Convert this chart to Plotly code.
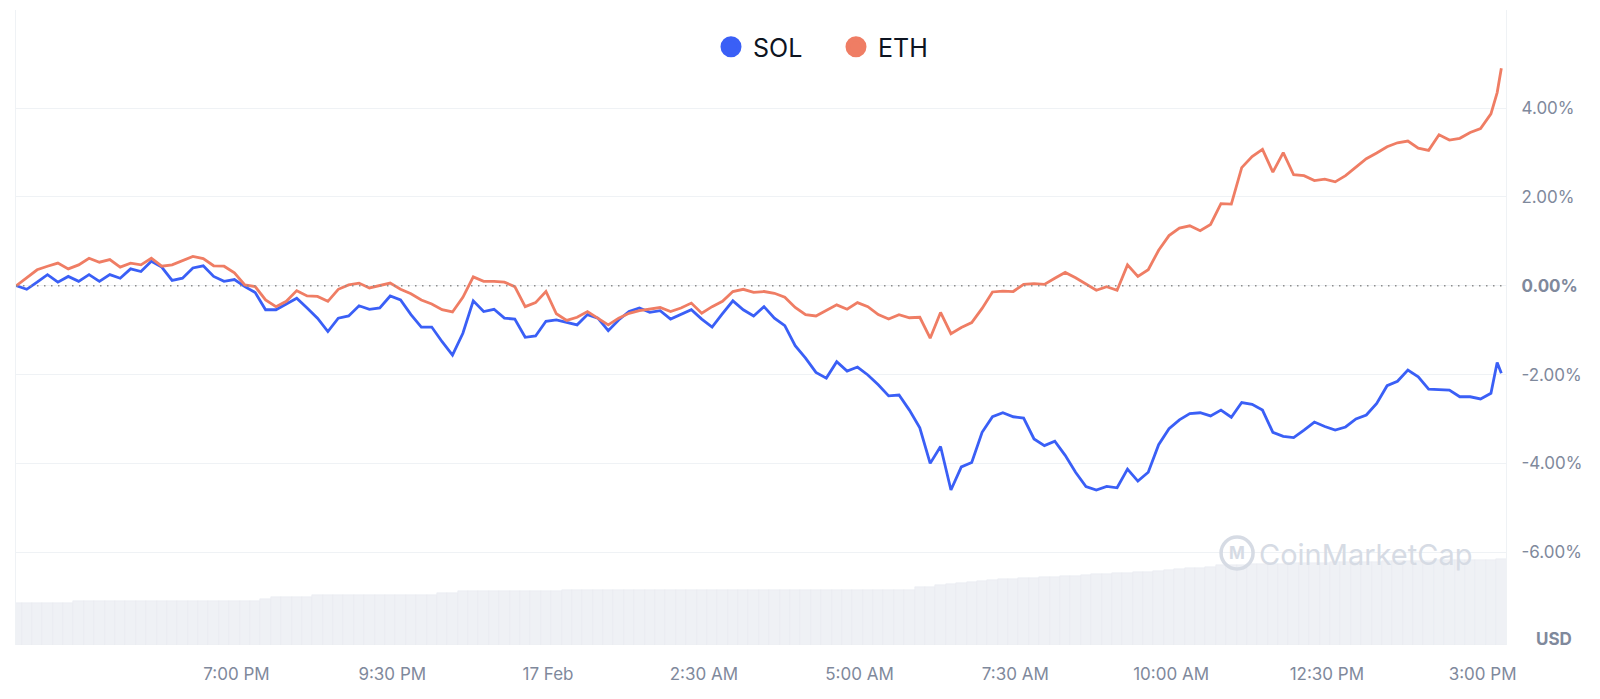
import pandas as pd
import plotly.graph_objects as go

# ---------------- data ----------------
start = "2025-02-16 15:28"
grid_times = pd.date_range(start, periods=144, freq="10min")
extra_time = pd.Timestamp("2025-02-17 15:14")
line_times = list(grid_times[:143]) + [extra_time, grid_times[143]]

sol = [0.00, -0.08, 0.08, 0.25, 0.08, 0.21, 0.10, 0.25, 0.10, 0.25,
       0.17, 0.38, 0.32, 0.55, 0.42, 0.12, 0.17, 0.40, 0.45, 0.21,
       0.10, 0.14, -0.02, -0.15, -0.54, -0.54, -0.41, -0.28, -0.50, -0.73,
       -1.03, -0.73, -0.68, -0.45, -0.53, -0.50, -0.23, -0.32, -0.65, -0.93,
       -0.93, -1.26, -1.56, -1.07, -0.34, -0.58, -0.53, -0.73, -0.75, -1.16,
       -1.13, -0.80, -0.77, -0.83, -0.88, -0.65, -0.73, -1.01, -0.77, -0.58,
       -0.50, -0.60, -0.56, -0.75, -0.65, -0.54, -0.75, -0.93, -0.63, -0.34,
       -0.54, -0.68, -0.47, -0.73, -0.90, -1.35, -1.63, -1.95, -2.08, -1.71,
       -1.92, -1.83, -2.01, -2.23, -2.48, -2.46, -2.80, -3.20, -4.00, -3.62,
       -4.60, -4.08, -3.98, -3.30, -2.95, -2.86, -2.95, -2.98, -3.45, -3.60,
       -3.50, -3.82, -4.20, -4.52, -4.60, -4.52, -4.55, -4.13, -4.40, -4.20,
       -3.58, -3.22, -3.02, -2.88, -2.86, -2.93, -2.80, -2.96, -2.63, -2.67,
       -2.80, -3.30, -3.39, -3.42, -3.25, -3.07, -3.17, -3.25, -3.18, -3.00,
       -2.91, -2.65, -2.25, -2.15, -1.90, -2.05, -2.33, -2.34, -2.35, -2.50,
       -2.50, -2.55, -2.42, -1.73, -1.97]

eth = [0.00, 0.17, 0.36, 0.44, 0.51, 0.38, 0.47, 0.62, 0.53, 0.59,
       0.42, 0.51, 0.47, 0.62, 0.44, 0.47, 0.57, 0.66, 0.61, 0.45,
       0.44, 0.29, 0.02, -0.02, -0.32, -0.47, -0.35, -0.11, -0.23, -0.24,
       -0.35, -0.08, 0.02, 0.06, -0.05, 0.00, 0.06, -0.08, -0.18, -0.32,
       -0.41, -0.54, -0.59, -0.26, 0.20, 0.10, 0.10, 0.08, -0.02, -0.47,
       -0.38, -0.13, -0.63, -0.78, -0.71, -0.58, -0.73, -0.88, -0.73, -0.62,
       -0.56, -0.53, -0.49, -0.58, -0.50, -0.39, -0.62, -0.47, -0.35, -0.13,
       -0.08, -0.15, -0.13, -0.17, -0.26, -0.49, -0.65, -0.68, -0.56, -0.43,
       -0.53, -0.38, -0.47, -0.65, -0.75, -0.65, -0.72, -0.71, -1.18, -0.60,
       -1.08, -0.94, -0.83, -0.51, -0.14, -0.12, -0.13, 0.03, 0.05, 0.03,
       0.17, 0.30, 0.18, 0.03, -0.10, -0.02, -0.10, 0.47, 0.21, 0.36,
       0.80, 1.13, 1.30, 1.35, 1.24, 1.38, 1.85, 1.84, 2.66, 2.91,
       3.07, 2.56, 3.00, 2.50, 2.48, 2.37, 2.40, 2.34, 2.48, 2.67,
       2.86, 2.99, 3.13, 3.22, 3.26, 3.10, 3.05, 3.40, 3.28, 3.32,
       3.45, 3.54, 3.87, 4.35, 4.90]

volume = [4.23, 4.23, 4.23, 4.23, 4.23, 4.23,
          4.43, 4.43, 4.43, 4.43, 4.43, 4.43, 4.43, 4.43, 4.43,
          4.43, 4.43, 4.43, 4.43, 4.43, 4.43, 4.43, 4.43, 4.43,
          4.60,
          4.77, 4.77, 4.77, 4.77,
          4.97, 4.97, 4.97, 4.97, 4.97, 4.97, 4.97, 4.97, 4.97, 4.97, 4.97, 4.97,
          5.17, 5.17,
          5.37, 5.37, 5.37, 5.37, 5.37, 5.37, 5.37, 5.37, 5.37, 5.37,
          5.55, 5.55, 5.55, 5.55, 5.55, 5.55, 5.55, 5.55, 5.55, 5.55,
          5.55, 5.55, 5.55, 5.55, 5.55, 5.55, 5.55, 5.55, 5.55, 5.55,
          5.55, 5.55, 5.55, 5.55, 5.55, 5.55, 5.55, 5.55, 5.55, 5.55,
          5.55, 5.55, 5.55, 5.55,
          5.83, 5.83,
          6.00, 6.15, 6.25, 6.33,
          6.45, 6.55, 6.60, 6.65, 6.70, 6.75, 6.80, 6.85, 6.90, 6.95, 7.00,
          7.10, 7.15, 7.20, 7.25, 7.30, 7.33,
          7.40, 7.50, 7.60, 7.70, 7.75, 7.83,
          8.00, 8.02, 8.05, 8.08, 8.10, 8.12, 8.15, 8.17, 8.20, 8.22,
          8.25, 8.27, 8.30, 8.32, 8.33, 8.35, 8.37, 8.40, 8.42, 8.44,
          8.45, 8.47, 8.48, 8.50, 8.52, 8.53,
          8.55, 8.57]

tick_times = ["2025-02-16 19:00", "2025-02-16 21:30", "2025-02-17 00:00",
              "2025-02-17 02:30", "2025-02-17 05:00", "2025-02-17 07:30",
              "2025-02-17 10:00", "2025-02-17 12:30", "2025-02-17 15:00"]
tick_labels = ["7:00 PM", "9:30 PM", "17 Feb", "2:30 AM", "5:00 AM",
               "7:30 AM", "10:00 AM", "12:30 PM", "3:00 PM"]
y_ticks = [-6, -4, -2, 0, 2, 4]
y_labels = ["-6.00%", "-4.00%", "-2.00%", "<b>0.00%</b>", "2.00%", "4.00%"]

series_names = ["SOL", "ETH"]
SOL_COLOR = "#3a5ff6"
ETH_COLOR = "#ef7d64"
AXIS_TEXT = "#7f899c"
GRID = "#eff2f5"
WATERMARK = "#d6dbe4"
FONT = "Inter"

# ---------------- figure ----------------
fig = go.Figure()

fig.add_trace(go.Bar(
    x=grid_times, y=volume, yaxis="y2", showlegend=False,
    marker=dict(color="#eff1f5", line=dict(color="#e7eaef", width=0.5)),
    hoverinfo="skip",
))

fig.add_trace(go.Scatter(
    x=line_times, y=sol, mode="lines", name=series_names[0], showlegend=False,
    line=dict(color=SOL_COLOR, width=2.8),
))
fig.add_trace(go.Scatter(
    x=line_times, y=eth, mode="lines", name=series_names[1], showlegend=False,
    line=dict(color=ETH_COLOR, width=2.8),
))

# legend-only entries (circle markers)
for nm, col in zip(series_names, [SOL_COLOR, ETH_COLOR]):
    fig.add_trace(go.Scatter(
        x=[None], y=[None], mode="markers", name=nm,
        marker=dict(color=col, size=16, line=dict(color=col, width=5)),
    ))

# dotted zero line
fig.add_hline(y=0, line=dict(color="#8d8d8d", width=1.3, dash="1.5px,5.5px"))

# watermark
fig.add_shape(type="circle", xref="paper", yref="paper",
              xsizemode="pixel", ysizemode="pixel",
              xanchor=0.8195, yanchor=0.1449,
              x0=-16, x1=16, y0=-16, y1=16,
              line=dict(color=WATERMARK, width=3.5), layer="above")
fig.add_annotation(xref="paper", yref="paper", x=0.8195, y=0.1449,
                   xanchor="center", yanchor="middle",
                   text="<b>M</b>", showarrow=False,
                   font=dict(family=FONT, size=17, color=WATERMARK))
fig.add_annotation(xref="paper", yref="paper", x=0.9054, y=0.1433,
                   xanchor="center", yanchor="middle",
                   text="CoinMarketCap", showarrow=False,
                   font=dict(family=FONT, size=29, color=WATERMARK))

# USD label
fig.add_annotation(xref="paper", yref="paper", x=1.0, y=0.0, xshift=28,
                   yshift=6, xanchor="left", yanchor="middle",
                   text="<b>USD</b>", showarrow=False,
                   font=dict(family=FONT, size=17, color=AXIS_TEXT))

fig.update_layout(
    width=1600, height=699,
    margin=dict(l=16, r=94, t=10, b=54),
    paper_bgcolor="white", plot_bgcolor="white",
    font=dict(family=FONT, color=AXIS_TEXT),
    bargap=0,
    showlegend=True,
    legend=dict(orientation="h", x=0.4651, y=0.9417,
                xanchor="left", yanchor="middle",
                font=dict(family=FONT, size=25, color="#0d1421"),
                bgcolor="rgba(0,0,0,0)", itemwidth=34,
                entrywidth=76, entrywidthmode="pixels"),
    xaxis=dict(type="date",
               range=["2025-02-16 15:27:40", "2025-02-17 15:22:30"],
               tickvals=tick_times, ticktext=tick_labels,
               showgrid=False, zeroline=False, showline=False, ticks="",
               tickfont=dict(family=FONT, size=17, color=AXIS_TEXT),
               ticklabelstandoff=17),
    yaxis=dict(side="right", range=[-8.09, 6.21],
               tickvals=y_ticks, ticktext=y_labels,
               showgrid=True, gridcolor=GRID, gridwidth=1.2,
               zeroline=False, showline=True, linecolor=GRID, linewidth=1.2,
               ticks="", ticklabelstandoff=11,
               tickfont=dict(family=FONT, size=17, color=AXIS_TEXT)),
    yaxis2=dict(overlaying="y", side="left", range=[0, 63.5],
                showgrid=False, zeroline=False, showticklabels=False,
                showline=True, linecolor=GRID, linewidth=1.2, ticks=""),
)

fig.write_html("out.html")
